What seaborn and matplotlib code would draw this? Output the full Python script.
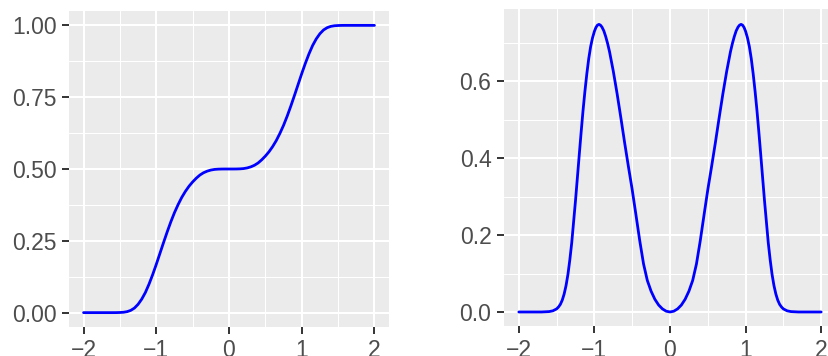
import matplotlib
matplotlib.use("Agg")
import matplotlib.pyplot as plt
import seaborn as sns
import pandas as pd
from matplotlib.ticker import MultipleLocator

# ---- data ----
cdf_x = [-2.0, -1.6, -1.55, -1.5, -1.45, -1.4, -1.35, -1.3, -1.25, -1.2, -1.15, -1.1, -1.05,
         -1.0, -0.95, -0.9, -0.85, -0.8, -0.75, -0.7, -0.65, -0.6, -0.55, -0.5, -0.45,
         -0.4, -0.35, -0.3, -0.25, -0.2, -0.15, -0.1, -0.05, 0.0,
         0.05, 0.1, 0.15, 0.2, 0.25, 0.3, 0.35, 0.4, 0.45, 0.5, 0.55, 0.6, 0.65, 0.7,
         0.75, 0.8, 0.85, 0.9, 0.95, 1.0, 1.05, 1.1, 1.15, 1.2, 1.25, 1.3, 1.35, 1.4,
         1.45, 1.5, 1.55, 1.6, 2.0]
cdf_y = [0.0, 0.0, 0.0001, 0.0005, 0.0013, 0.0035, 0.008, 0.016, 0.029, 0.047, 0.070, 0.099, 0.132,
         0.168, 0.206, 0.244, 0.281, 0.316, 0.348, 0.376, 0.401, 0.422, 0.440, 0.455, 0.468,
         0.479, 0.487, 0.4925, 0.4963, 0.4985, 0.4995, 0.4999, 0.5, 0.5,
         0.5, 0.5001, 0.5005, 0.5015, 0.5037, 0.5075, 0.513, 0.521, 0.532, 0.545, 0.560, 0.578,
         0.599, 0.624, 0.652, 0.684, 0.719, 0.756, 0.794, 0.832, 0.868, 0.901, 0.930, 0.953,
         0.971, 0.984, 0.992, 0.9965, 0.9987, 0.9995, 0.9999, 1.0, 1.0]

pdf_x = [-2.0, -1.7, -1.6, -1.55, -1.5, -1.475, -1.45, -1.425, -1.4, -1.375, -1.35, -1.325,
         -1.3, -1.25, -1.2, -1.175, -1.15, -1.125, -1.1, -1.075, -1.05, -1.025, -1.0, -0.98,
         -0.96, -0.94, -0.92, -0.9, -0.875, -0.85, -0.825, -0.8, -0.75, -0.7, -0.65, -0.6,
         -0.55, -0.5, -0.45, -0.4, -0.35, -0.3, -0.25, -0.2, -0.15, -0.1, -0.05, 0.0,
         0.05, 0.1, 0.15, 0.2, 0.25, 0.3, 0.35, 0.4, 0.45, 0.5, 0.55, 0.6, 0.65, 0.7,
         0.75, 0.8, 0.825, 0.85, 0.875, 0.9, 0.92, 0.94, 0.96, 0.98, 1.0, 1.025, 1.05,
         1.075, 1.1, 1.125, 1.15, 1.175, 1.2, 1.25, 1.3, 1.325, 1.35, 1.375, 1.4, 1.425,
         1.45, 1.475, 1.5, 1.55, 1.6, 1.7, 2.0]
pdf_y = [0.0, 0.0, 0.001, 0.003, 0.008, 0.013, 0.020, 0.031, 0.047, 0.069, 0.098, 0.136,
         0.180, 0.290, 0.410, 0.469, 0.525, 0.575, 0.620, 0.659, 0.690, 0.713, 0.730, 0.740,
         0.746, 0.748, 0.746, 0.741, 0.731, 0.716, 0.698, 0.677, 0.626, 0.568, 0.505, 0.440,
         0.378, 0.318, 0.252, 0.185, 0.125, 0.082, 0.054, 0.033, 0.018, 0.008, 0.002, 0.0,
         0.002, 0.008, 0.018, 0.033, 0.054, 0.082, 0.125, 0.185, 0.252, 0.318, 0.378, 0.440,
         0.505, 0.568, 0.626, 0.677, 0.698, 0.716, 0.731, 0.741, 0.746, 0.748, 0.746, 0.740,
         0.730, 0.713, 0.690, 0.659, 0.620, 0.575, 0.525, 0.469, 0.410, 0.290, 0.180, 0.136,
         0.098, 0.069, 0.047, 0.031, 0.020, 0.013, 0.008, 0.003, 0.001, 0.0, 0.0]

x_ticks = [-2, -1, 0, 1, 2]
x_labels = ["\u22122", "\u22121", "0", "1", "2"]
cdf_ticks = [0.0, 0.25, 0.5, 0.75, 1.0]
cdf_labels = ["0.00", "0.25", "0.50", "0.75", "1.00"]
pdf_ticks = [0.0, 0.2, 0.4, 0.6]
pdf_labels = ["0.0", "0.2", "0.4", "0.6"]

sns.set_theme(style="darkgrid")
plt.rcParams["font.family"] = ["Liberation Sans", "DejaVu Sans"]

W, H = 829, 356
fig = plt.figure(figsize=(W / 100, H / 100), dpi=100)
fig.patch.set_facecolor("white")

ax1 = fig.add_axes([69 / W, (H - 327) / H, 320 / W, 316 / H])
ax2 = fig.add_axes([503.7 / W, (H - 326.4) / H, 332.6 / W, 317.2 / H])

df1 = pd.DataFrame({"x": cdf_x, "y": cdf_y})
df2 = pd.DataFrame({"x": pdf_x, "y": pdf_y})
sns.lineplot(data=df1, x="x", y="y", ax=ax1, color="#0000FF", lw=2.0, sort=False)
sns.lineplot(data=df2, x="x", y="y", ax=ax2, color="#0000FF", lw=2.0, sort=False)

def style(ax, yticks, ylabels, ymin, ymax, yminor):
    ax.set_facecolor("#EBEBEB")
    ax.set_xlim(-2.2, 2.2)
    ax.set_ylim(ymin, ymax)
    ax.set_xticks(x_ticks)
    ax.set_xticklabels(x_labels)
    ax.set_yticks(yticks)
    ax.set_yticklabels(ylabels)
    ax.xaxis.set_minor_locator(MultipleLocator(0.5))
    ax.yaxis.set_minor_locator(MultipleLocator(yminor))
    ax.grid(which="major", color="white", lw=1.45)
    ax.grid(which="minor", color="white", lw=0.75)
    ax.set_axisbelow(True)
    for s in ax.spines.values():
        s.set_visible(False)
    ax.tick_params(which="major", length=4.8, width=1.4, color="#333333",
                   labelcolor="#4D4D4D", labelsize=16.5, pad=4,
                   bottom=True, left=True)
    ax.tick_params(which="minor", length=0, bottom=False, left=False)
    ax.set_xlabel("")
    ax.set_ylabel("")

style(ax1, cdf_ticks, cdf_labels, -0.05, 1.05, 0.125)
style(ax2, pdf_ticks, pdf_labels, -0.0375, 0.7875, 0.1)

fig.savefig("out.png", dpi=100)
